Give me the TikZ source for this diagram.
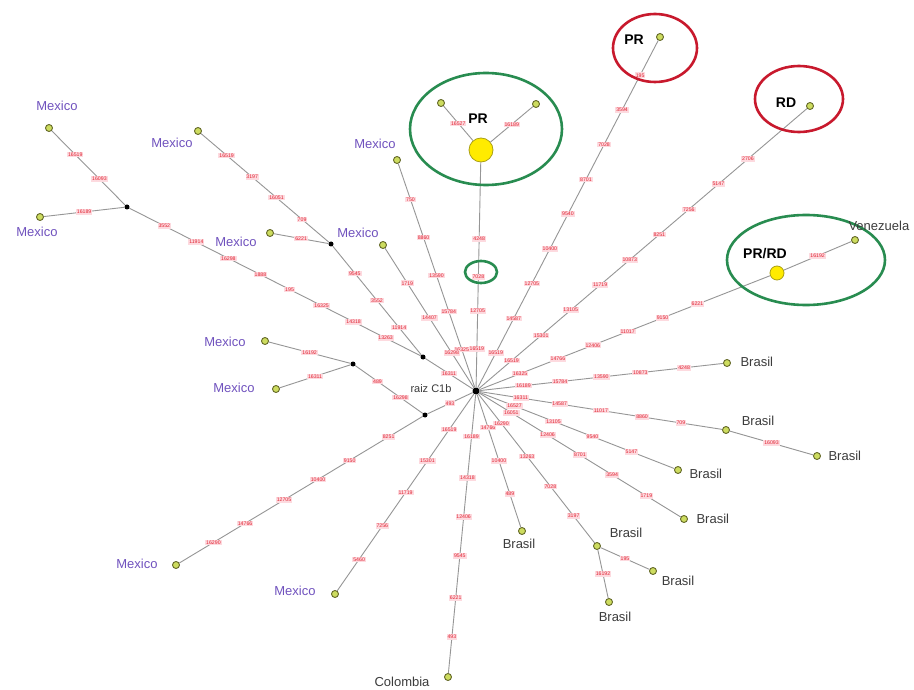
\documentclass[tikz,border=0pt]{standalone}
\usepackage{fontspec}
\setmainfont{Liberation Sans}
\usetikzlibrary{shapes.geometric}
\definecolor{edgegray}{RGB}{150,150,150}
\definecolor{leafrim}{RGB}{100,105,40}
\definecolor{leaffill}{RGB}{205,220,95}
\definecolor{hapring}{RGB}{170,160,20}
\definecolor{hapyellow}{RGB}{255,235,0}
\definecolor{mutbg}{RGB}{253,218,223}
\definecolor{mutred}{RGB}{225,35,50}
\definecolor{mexpurple}{RGB}{112,82,190}
\definecolor{labgray}{RGB}{60,60,60}
\definecolor{ringgreen}{RGB}{40,140,80}
\definecolor{ringred}{RGB}{200,25,45}
% mutation labels placed along an edge: start, end, list of pos/text
\newcommand\mutsalong[3]{\foreach \mpos/\mtxt in {#3}{\path (#1) -- (#2) node[mut,pos=\mpos]{\mtxt};}}
\begin{document}
\begin{tikzpicture}[x=1pt,y=-1pt,
  edge/.style={draw=edgegray,line width=0.9pt},
  leaf/.style={circle,draw=leafrim,fill=leaffill,line width=0.9pt,minimum size=7pt,inner sep=0pt},
  med/.style={circle,fill=black,minimum size=5pt,inner sep=0pt},
  hap/.style={circle,draw=hapring,fill=hapyellow,line width=0.8pt,inner sep=0pt},
  mut/.style={fill=mutbg,text=mutred,font=\fontsize{5.2}{6}\selectfont,inner sep=0.9pt},
  mexlab/.style={text=mexpurple,font=\fontsize{13}{15}\selectfont},
  brlab/.style={text=labgray,font=\fontsize{13}{15}\selectfont},
  grp/.style={font=\bfseries\fontsize{14}{16}\selectfont},
  greenring/.style={draw=ringgreen,line width=2.6pt},
  redring/.style={draw=ringred,line width=2.6pt}]
\useasboundingbox[fill=white] (0,0) rectangle (914,690);

% ---- haplotype nodes ----
\node[med,minimum size=7pt] (C) at (476,391) {};
\node[leaf] (mx1) at (49,128) {};
\node[leaf] (mx2) at (40,217) {};
\node[med] (b3) at (127,207) {};
\node[leaf] (mx3) at (198,131) {};
\node[leaf] (mx4) at (270,233) {};
\node[med] (b2) at (331,244) {};
\node[leaf] (mx5) at (383,245) {};
\node[leaf] (mx6) at (397,160) {};
\node[med] (b1) at (423,357) {};
\node[leaf] (mx7) at (265,341) {};
\node[leaf] (mx8) at (276,389) {};
\node[med] (b4) at (353,364) {};
\node[med] (b5) at (425,415) {};
\node[leaf] (mx9) at (176,565) {};
\node[leaf] (mx10) at (335,594) {};
\node[leaf] (col) at (448,677) {};
\node[hap,minimum size=24pt] (yPR) at (481,150) {};
\node[leaf] (pr1) at (441,103) {};
\node[leaf] (pr2) at (536,104) {};
\node[leaf] (prT) at (660,37) {};
\node[leaf] (rd) at (810,106) {};
\node[hap,minimum size=14pt] (yPRRD) at (777,273) {};
\node[leaf] (ven) at (855,240) {};
\node[leaf] (br1) at (727,363) {};
\node[leaf] (br2) at (726,430) {};
\node[leaf] (br3) at (817,456) {};
\node[leaf] (br4) at (678,470) {};
\node[leaf] (br5) at (684,519) {};
\node[leaf] (br6) at (522,531) {};
\node[leaf] (br7) at (597,546) {};
\node[leaf] (br8) at (653,571) {};
\node[leaf] (br9) at (609,602) {};

% ---- connectors ----
\draw[edge] (C) -- (prT);
\draw[edge] (C) -- (rd);
\draw[edge] (C) -- (yPRRD) -- (ven);
\draw[edge] (C) -- (yPR);
\draw[edge] (yPR) -- (pr1);
\draw[edge] (yPR) -- (pr2);
\draw[edge] (C) -- (mx6);
\draw[edge] (C) -- (mx5);
\draw[edge] (C) -- (b1);
\draw[edge] (b1) -- (b2) -- (mx3);
\draw[edge] (b2) -- (mx4);
\draw[edge] (b1) -- (b3) -- (mx1);
\draw[edge] (b3) -- (mx2);
\draw[edge] (C) -- (b5) -- (b4) -- (mx7);
\draw[edge] (b4) -- (mx8);
\draw[edge] (b5) -- (mx9);
\draw[edge] (C) -- (mx10);
\draw[edge] (C) -- (col);
\draw[edge] (C) -- (br1);
\draw[edge] (C) -- (br2) -- (br3);
\draw[edge] (C) -- (br4);
\draw[edge] (C) -- (br5);
\draw[edge] (C) -- (br6);
\draw[edge] (C) -- (br7) -- (br8);
\draw[edge] (br7) -- (br9);

% ---- mutations on the branches ----
\mutsalong{C}{prT}{0.1/16519,0.2/14587,0.3/12705,0.4/10400,0.5/9540,0.6/8701,0.7/7028,0.8/3594,0.9/195}
\mutsalong{C}{rd}{0.1/16519,0.19/15301,0.28/13105,0.37/11719,0.46/10873,0.55/8251,0.64/7256,0.73/5147,0.82/2706}
\mutsalong{C}{yPRRD}{0.14/16325,0.27/14766,0.39/12406,0.51/11017,0.63/9150,0.75/6221}
\mutsalong{yPRRD}{ven}{0.5/16192}
\mutsalong{C}{yPR}{0.17/16519,0.34/12705,0.49/7028,0.66/4248}
\mutsalong{yPR}{pr1}{0.5/16527}
\mutsalong{yPR}{pr2}{0.5/16189}
\mutsalong{C}{mx6}{0.17/16325,0.34/15784,0.5/13590,0.67/8860,0.84/750}
\mutsalong{C}{mx5}{0.25/16298,0.5/14407,0.75/1719}
\mutsalong{C}{b1}{0.5/16311}
\mutsalong{b1}{b2}{0.25/11914,0.5/3552,0.75/9545}
\mutsalong{b2}{mx3}{0.21/709,0.41/16051,0.6/3197,0.8/16519}
\mutsalong{b2}{mx4}{0.5/6221}
\mutsalong{b1}{b3}{0.12/13263,0.23/14318,0.34/16325,0.45/195,0.55/1888,0.66/16298,0.77/11914,0.88/3552}
\mutsalong{b3}{mx1}{0.35/16093,0.68/16519}
\mutsalong{b3}{mx2}{0.5/16189}
\mutsalong{C}{b5}{0.5/493}
\mutsalong{b5}{b4}{0.33/16298,0.67/489}
\mutsalong{b4}{mx7}{0.5/16192}
\mutsalong{b4}{mx8}{0.5/16311}
\mutsalong{b5}{mx9}{0.14/8251,0.3/9150,0.43/10400,0.57/12705,0.73/14766,0.86/16290}
\mutsalong{C}{mx10}{0.18/16519,0.34/15301,0.5/11719,0.67/7256,0.84/5460}
\mutsalong{C}{col}{0.15/16189,0.3/14318,0.44/12406,0.58/9545,0.73/6221,0.87/493}
\mutsalong{C}{br1}{0.18/16189,0.33/15784,0.5/13590,0.66/10873,0.84/4248}
\mutsalong{C}{br2}{0.17/16311,0.33/14587,0.5/11017,0.67/8860,0.83/709}
\mutsalong{br2}{br3}{0.5/16093}
\mutsalong{C}{br4}{0.18/16527,0.38/13105,0.58/9540,0.78/5147}
\mutsalong{C}{br5}{0.16/16051,0.34/12406,0.5/8701,0.66/3594,0.83/1719}
\mutsalong{C}{br6}{0.25/14766,0.5/10400,0.75/489}
\mutsalong{C}{br7}{0.2/16290,0.42/13263,0.62/7028,0.82/3197}
\mutsalong{br7}{br8}{0.5/195}
\mutsalong{br7}{br9}{0.5/16192}

% ---- group rings ----
\draw[greenring] (486,129) ellipse [x radius=76pt, y radius=56pt];
\draw[greenring] (481,272) ellipse [x radius=16pt, y radius=11pt];
\draw[redring] (655,48) ellipse [x radius=42pt, y radius=34pt];
\draw[redring] (799,99) ellipse [x radius=44pt, y radius=33pt];
\draw[greenring] (806,260) ellipse [x radius=79pt, y radius=45pt];

% ---- labels ----
\node[grp] (tPR) at (478,119) {PR};
\node[grp] (tPR2) at (634,40) {PR};
\node[grp] (tRD) at (786,103) {RD};
\node[grp] (tPRRD) at (765,254) {PR/RD};
\node[brlab,anchor=west] (tven) at (845,226) {Venezuela};
\node[text=labgray,font=\fontsize{11}{13}\selectfont] (troot) at (431,389) {raiz C1b};

\node[mexlab] (t1) at (57,106) {Mexico};
\node[mexlab] (t2) at (37,232) {Mexico};
\node[mexlab] (t3) at (172,143) {Mexico};
\node[mexlab] (t4) at (236,242) {Mexico};
\node[mexlab] (t5) at (358,233) {Mexico};
\node[mexlab] (t6) at (375,144) {Mexico};
\node[mexlab] (t7) at (225,342) {Mexico};
\node[mexlab] (t8) at (234,388) {Mexico};
\node[mexlab] (t9) at (137,564) {Mexico};
\node[mexlab] (t10) at (295,591) {Mexico};
\node[brlab] (tcol) at (402,682) {Colombia};

\node[brlab,anchor=west] (tb1) at (737,362) {Brasil};
\node[brlab] (tb2) at (758,421) {Brasil};
\node[brlab,anchor=west] (tb3) at (825,456) {Brasil};
\node[brlab,anchor=west] (tb4) at (686,474) {Brasil};
\node[brlab,anchor=west] (tb5) at (693,519) {Brasil};
\node[brlab] (tb6) at (519,544) {Brasil};
\node[brlab] (tb7) at (626,533) {Brasil};
\node[brlab] (tb8) at (678,581) {Brasil};
\node[brlab] (tb9) at (615,617) {Brasil};
\end{tikzpicture}
\end{document}
